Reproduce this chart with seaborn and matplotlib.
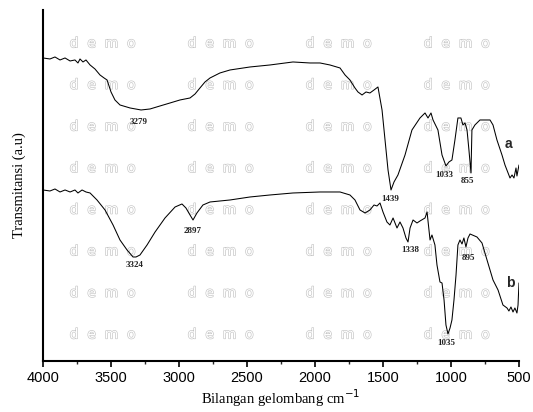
import matplotlib
matplotlib.use("Agg")
import matplotlib.pyplot as plt
import matplotlib.patheffects as pe
from matplotlib.ticker import MultipleLocator
import pandas as pd
import seaborn as sns

# Spectrum a (upper curve): wavenumber (cm-1) and transmittance (a.u.)
wn_a = [4000, 3949, 3912, 3875, 3838, 3801, 3765, 3743, 3728, 3706, 3684, 3654,
        3618, 3581, 3551, 3529, 3500, 3471, 3434, 3360, 3279, 3213, 3140, 3066,
        2993, 2919, 2882, 2846, 2809, 2772, 2699, 2625, 2478, 2331, 2162, 2037,
        1963, 1890, 1816, 1779, 1743, 1706, 1684, 1654, 1625, 1596, 1566, 1537,
        1507, 1485, 1463, 1441, 1419, 1390, 1338, 1287, 1228, 1191, 1169, 1147,
        1132, 1096, 1066, 1037, 1015, 993, 971, 949, 927, 912, 897, 882, 868,
        853, 846, 824, 787, 713, 691, 662, 625, 603, 566, 551, 537, 522, 515, 500]
tr_a = [303, 302, 304, 301, 303, 300, 301, 298, 302, 299, 301, 296,
        292, 286, 283, 281, 269, 261, 256, 253, 251, 252, 255, 258,
        261, 263, 267, 273, 279, 283, 288, 291, 294, 296, 299, 298,
        298, 296, 293, 286, 281, 273, 269, 266, 269, 268, 271, 274,
        251, 221, 191, 171, 179, 186, 206, 231, 243, 248, 243, 248,
        241, 231, 206, 195, 199, 201, 221, 243, 243, 236, 238, 231, 211,
        188, 231, 236, 241, 241, 236, 221, 206, 196, 183, 186, 183, 193, 185, 196]

# Spectrum b (lower curve)
wn_b = [4000, 3949, 3912, 3875, 3838, 3801, 3765, 3743, 3713, 3684, 3654, 3603,
        3544, 3485, 3434, 3382, 3338, 3316, 3287, 3235, 3176, 3103, 3029, 2978,
        2949, 2919, 2897, 2868, 2824, 2772, 2625, 2478, 2331, 2162, 1963, 1816,
        1743, 1706, 1669, 1632, 1596, 1566, 1544, 1522, 1500, 1471, 1449, 1426,
        1397, 1375, 1353, 1331, 1316, 1301, 1279, 1250, 1228, 1191, 1176, 1154,
        1140, 1118, 1103, 1081, 1066, 1051, 1037, 1022, 1007, 993, 978, 963,
        949, 934, 919, 905, 890, 875, 860, 809, 772, 735, 691, 654, 618, 588,
        574, 559, 544, 530, 515, 507, 500]
tr_b = [171, 170, 172, 169, 171, 169, 171, 168, 171, 169, 168, 161,
        151, 136, 121, 111, 104, 104, 106, 116, 129, 143, 154, 157,
        153, 146, 141, 148, 156, 159, 161, 164, 166, 168, 169, 169,
        166, 161, 151, 148, 151, 156, 155, 158, 149, 139, 136, 143,
        133, 139, 133, 123, 119, 133, 141, 138, 140, 143, 149, 121,
        126, 116, 96, 79, 78, 61, 36, 27, 33, 41, 61, 86,
        116, 121, 117, 123, 114, 123, 127, 124, 118, 101, 81, 71, 56, 53,
        50, 54, 49, 53, 48, 56, 78]

# Peak labels: text and where it sits (wavenumber, height)
peak_text_a = ["3279", "1439", "1033", "855"]
peak_pos_a = [(3294, 239), (1449, 162), (1051, 186), (875, 180)]
peak_text_b = ["3324", "2897", "1338", "895", "1035"]
peak_pos_b = [(3324, 96), (2897, 130), (1301, 111), (868, 103), (1037, 18)]

df_a = pd.DataFrame({"wn": wn_a, "tr": tr_a})
df_b = pd.DataFrame({"wn": wn_b, "tr": tr_b})

sns.set_theme(style="ticks")
plt.rcParams["font.family"] = ["Liberation Sans", "DejaVu Sans"]

fig = plt.figure(figsize=(5.33, 4.12), dpi=100)
ax = fig.add_axes([0.0807, 0.1238, 0.893, 0.852])

# watermark grid (outlined grey letters)
for row in range(8):
    for col in range(4):
        ax.text(0.125 + col * 0.248, 0.905 - row * 0.1185, "d  e  m  o",
                transform=ax.transAxes, ha="center", va="center",
                fontsize=10, color="white", family="DejaVu Sans", zorder=0.5,
                path_effects=[pe.withStroke(linewidth=0.9, foreground="#c4c4c4")])

sns.lineplot(data=df_a, x="wn", y="tr", ax=ax, color="black", lw=0.75,
             sort=False, estimator=None, zorder=3)
sns.lineplot(data=df_b, x="wn", y="tr", ax=ax, color="black", lw=0.75,
             sort=False, estimator=None, zorder=3)

serif = ["Liberation Serif", "DejaVu Serif"]
for txt, (x, y) in zip(peak_text_a + peak_text_b, peak_pos_a + peak_pos_b):
    ax.text(x, y, txt, ha="center", va="center", fontsize=6.5,
            family=serif, fontweight="bold", color="#222222", zorder=4)
ax.text(581, 217, "a", ha="center", va="center", fontsize=10, fontweight="bold")
ax.text(566, 78, "b", ha="center", va="center", fontsize=10, fontweight="bold")

ax.set_xlim(4000, 500)
ax.set_ylim(0, 351)
ax.xaxis.set_major_locator(MultipleLocator(500))
ax.xaxis.set_minor_locator(MultipleLocator(250))
ax.tick_params(axis="x", which="major", direction="out", length=4, width=1.2,
               labelsize=10.5, pad=3, colors="black")
ax.tick_params(axis="x", which="minor", direction="out", length=2, width=1)
ax.set_yticks([])
sns.despine(ax=ax)
for side in ["left", "bottom"]:
    ax.spines[side].set_linewidth(1.5)
    ax.spines[side].set_color("black")

ax.set_xlabel("Bilangan gelombang cm$^{-1}$", family=serif, fontsize=10.5,
              labelpad=2, color="black")
ax.set_ylabel("Transmitansi (a.u)", family=serif, fontsize=10.5, labelpad=12,
              color="black")
ax.set_facecolor("white")
fig.patch.set_facecolor("white")

fig.savefig("out.png", dpi=100, facecolor="white")
